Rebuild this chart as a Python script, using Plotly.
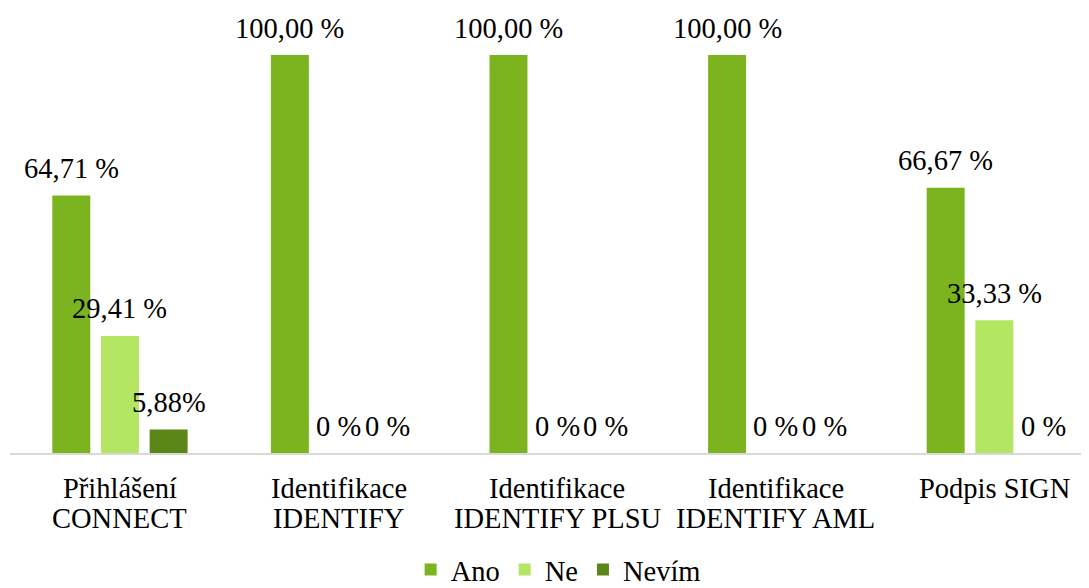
import plotly.graph_objects as go

categories = ["Přihlášení<br>CONNECT", "Identifikace<br>IDENTIFY", "Identifikace<br>IDENTIFY PLSU",
              "Identifikace<br>IDENTIFY AML", "Podpis SIGN"]
series_names = ["Ano", "Ne", "Nevím"]
ano = [64.71, 100.0, 100.0, 100.0, 66.67]
ne = [29.41, 0.0, 0.0, 0.0, 33.33]
nevim = [5.88, 0.0, 0.0, 0.0, 0.0]
ano_labels = ["64,71 %", "100,00 %", "100,00 %", "100,00 %", "66,67 %"]
ne_labels = ["29,41 %", "0 %", "0 %", "0 %", "33,33 %"]
nevim_labels = ["5,88%", "0 %", "0 %", "0 %", "0 %"]
colors = ["#7BB41F", "#B4E664", "#5B8718"]

FONT = "Liberation Serif"
FS = 28.5

values = [ano, ne, nevim]
labels = [ano_labels, ne_labels, nevim_labels]

fig = go.Figure()
for name, vals, col in zip(series_names, values, colors):
    fig.add_trace(go.Bar(x=categories, y=vals, name=name, marker=dict(color=col, line=dict(width=0))))

slot_px = 48.7
annotations = []
# value labels
for i, (vals, labs) in enumerate(zip(values, labels)):
    for c, v, t in zip(categories, vals, labs):
        annotations.append(dict(x=c, y=v, xref="x", yref="y", text=t, showarrow=False,
                                xshift=(i - 1) * slot_px, yshift=27, yanchor="middle",
                                font=dict(family=FONT, size=FS, color="black")))
# category labels (tight line spacing like the original)
for c in categories:
    for k, line in enumerate(c.split("<br>")):
        annotations.append(dict(x=c, y=0, xref="x", yref="paper", text=line, showarrow=False,
                                yanchor="middle", yshift=-35 - 30 * k,
                                font=dict(family=FONT, size=FS, color="black")))

fig.update_layout(
    width=1081, height=580,
    margin=dict(l=2, r=0, t=7, b=135, autoexpand=False),
    paper_bgcolor="white", plot_bgcolor="white",
    barmode="group", bargap=0.332, bargroupgap=0.22,
    font=dict(family=FONT, size=FS, color="black"),
    annotations=annotations,
    showlegend=True,
    legend=dict(orientation="h", x=0.508, xanchor="center", yref="container", y=0.031, yanchor="middle",
                font=dict(family=FONT, size=FS, color="black"), itemwidth=30, tracegroupgap=0),
    xaxis=dict(range=[-0.503, 4.433], showline=True, linecolor="#D9D9D9", linewidth=2,
               ticks="", showgrid=False, automargin=False, showticklabels=False),
    yaxis=dict(range=[0, 110.05], visible=False, showgrid=False, zeroline=False, automargin=False),
)

fig.write_html("out.html")
